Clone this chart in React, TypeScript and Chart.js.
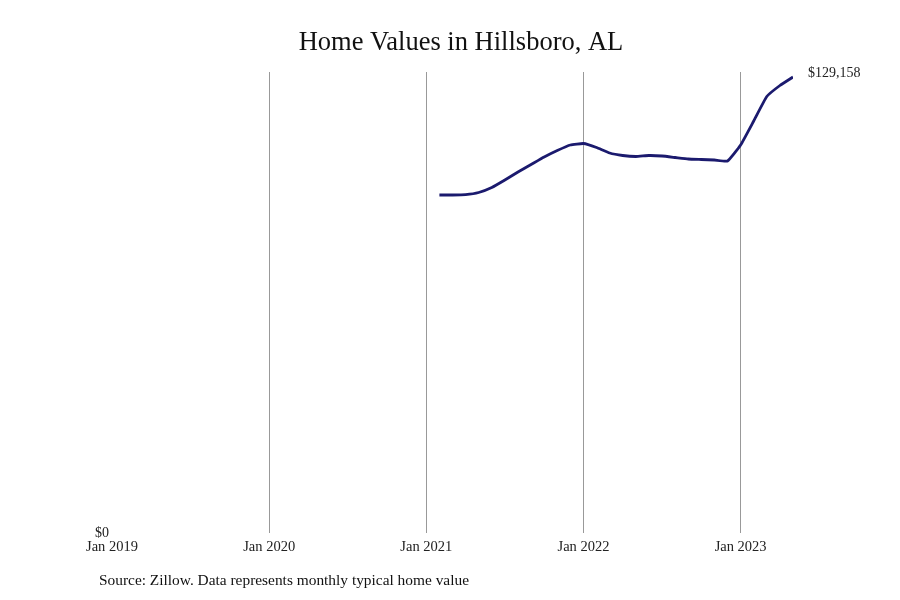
import React, { useEffect, useRef } from "react";
import { Chart, registerables } from "chart.js";

Chart.register(...registerables);

const TITLE = "Home Values in Hillsboro, AL";
const SOURCE = "Source: Zillow. Data represents monthly typical home value";

// month-end observations
const months = [
  "2021-01", "2021-02", "2021-03", "2021-04", "2021-05", "2021-06",
  "2021-07", "2021-08", "2021-09", "2021-10", "2021-11", "2021-12",
  "2022-01", "2022-02", "2022-03", "2022-04", "2022-05", "2022-06",
  "2022-07", "2022-08", "2022-09", "2022-10", "2022-11", "2022-12",
  "2023-01", "2023-02", "2023-03", "2023-04",
];
const homeValues = [
  95735, 95735, 95850, 96440, 97860, 99980,
  102250, 104370, 106500, 108340, 109900, 110320,
  109190, 107630, 106920, 106640, 106920, 106780,
  106360, 105930, 105790, 105650, 105370, 109900,
  116700, 123630, 126750, 129158,
];

const tickValues = [0, 12, 24, 36, 48];
const tickLabels = ["Jan 2019", "Jan 2020", "Jan 2021", "Jan 2022", "Jan 2023"];
const yTickValues = [0];

const SERIF = "'Liberation Serif', 'Times New Roman', serif";

function monthPos(m: string): number {
  const [y, mo] = m.split("-").map(Number);
  return (y - 2019) * 12 + (mo - 1) + 1; // end of month
}

const fmt = (v: number) => "$" + v.toLocaleString("en-US");

export default function App() {
  const ref = useRef<HTMLCanvasElement | null>(null);

  useEffect(() => {
    if (!ref.current) return;
    const points = months.map((m, i) => ({ x: monthPos(m), y: homeValues[i] }));

    const extras = {
      id: "extras",
      afterDraw(chart: any) {
        const ctx = chart.ctx;
        const meta = chart.getDatasetMeta(0);
        const last = meta.data[meta.data.length - 1];
        ctx.save();
        ctx.textAlign = "left";
        ctx.textBaseline = "middle";
        ctx.fillStyle = "#222";
        ctx.font = `14px ${SERIF}`;
        ctx.fillText(fmt(homeValues[homeValues.length - 1]), last.x + 15, last.y - 4);
        ctx.font = `15.4px ${SERIF}`;
        ctx.fillStyle = "#111";
        ctx.fillText(SOURCE, 99, 581);
        ctx.textAlign = "center";
        ctx.font = `26.5px ${SERIF}`;
        ctx.fillText(TITLE, 461, 43);
        ctx.restore();
      },
    };

    const chart = new Chart(ref.current, {
      type: "line",
      data: {
        datasets: [
          {
            data: points,
            borderColor: "#1b1a6e",
            borderWidth: 2.8,
            pointRadius: 0,
            tension: 0.12,
            fill: false,
          },
        ],
      },
      options: {
        animation: false,
        responsive: false,
        layout: { padding: { left: 0, right: 107, top: 72, bottom: 45 } },
        plugins: {
          legend: { display: false },
          tooltip: { enabled: false },
          title: { display: false },
        },
        scales: {
          x: {
            type: "linear",
            min: 0,
            max: 52,
            afterBuildTicks: (s: any) => {
              s.ticks = tickValues.map((v) => ({ value: v }));
            },
            afterFit: (s: any) => {
              s.height = 22;
            },
            ticks: {
              padding: 5,
              color: "#222",
              font: { family: SERIF, size: 14.5 },
              maxRotation: 0,
              autoSkip: false,
              callback: (v: any) => {
                const i = tickValues.indexOf(Number(v));
                return i >= 0 ? tickLabels[i] : "";
              },
            },
            grid: {
              drawTicks: false,
              color: (c: any) => (c.tick && c.tick.value === 0 ? "rgba(0,0,0,0)" : "#999"),
              lineWidth: 1,
            },
            border: { display: false },
          },
          y: {
            min: 0,
            max: 130574,
            afterBuildTicks: (s: any) => {
              s.ticks = yTickValues.map((v) => ({ value: v }));
            },
            afterFit: (s: any) => {
              s.width = 112;
            },
            ticks: {
              padding: 3,
              color: "#222",
              font: { family: SERIF, size: 14 },
              callback: (v: any) => fmt(Number(v)),
            },
            grid: { display: false, drawTicks: false },
            border: { display: false },
          },
        },
      },
      plugins: [extras],
    } as any);

    return () => chart.destroy();
  }, []);

  return (
    <div style={{ position: "absolute", left: 0, top: 0, width: 900, height: 600, background: "#fff" }}>
      <canvas ref={ref} width={900} height={600} style={{ display: "block", width: 900, height: 600 }} />
    </div>
  );
}
